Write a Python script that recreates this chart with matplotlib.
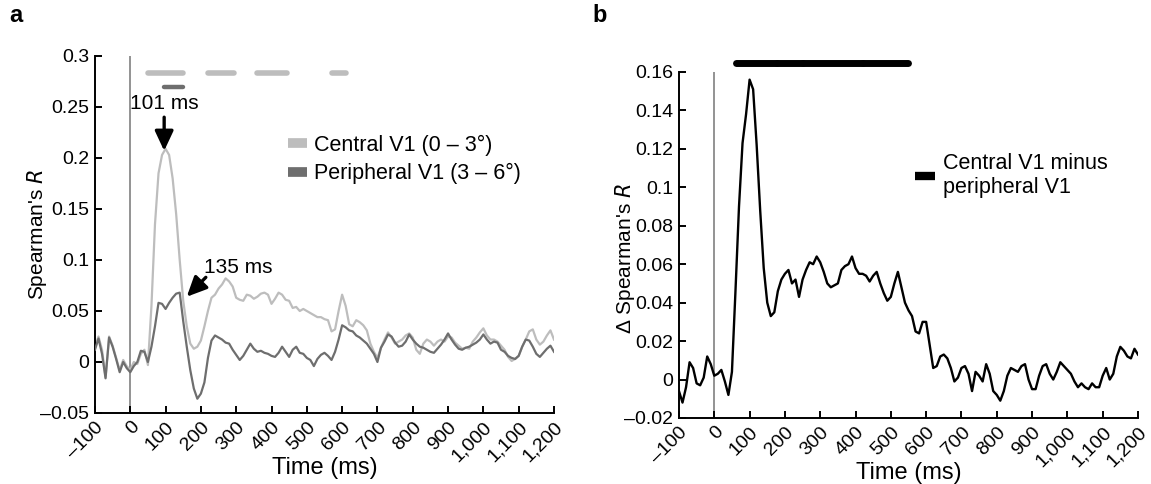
import matplotlib
matplotlib.use("Agg")
import matplotlib.pyplot as plt
from matplotlib.lines import Line2D
import numpy as np

plt.rcParams['font.family'] = ['Liberation Sans', 'DejaVu Sans']

# time axis (ms), one value every 10 ms
t_ms = np.arange(-100, 1201, 10)

central_r = [
    0.015, 0.025, 0.012, -0.015, 0.025, 0.016, 0.004, -0.008, 0.002, -0.004,
    -0.008, 0.000, -0.002, 0.008, 0.012, -0.003, 0.055, 0.135, 0.185, 0.203,
    0.209, 0.203, 0.180, 0.145, 0.100, 0.060, 0.035, 0.018, 0.013, 0.015,
    0.021, 0.035, 0.050, 0.063, 0.066, 0.072, 0.076, 0.082, 0.079, 0.074,
    0.063, 0.061, 0.060, 0.066, 0.065, 0.062, 0.064, 0.067, 0.068, 0.066,
    0.057, 0.062, 0.068, 0.066, 0.061, 0.060, 0.053, 0.054, 0.050, 0.052,
    0.050, 0.048, 0.046, 0.044, 0.044, 0.042, 0.041, 0.030, 0.032, 0.050,
    0.066, 0.055, 0.037, 0.035, 0.041, 0.039, 0.036, 0.031, 0.018, 0.010,
    0.004, 0.014, 0.022, 0.029, 0.024, 0.018, 0.020, 0.022, 0.026, 0.028,
    0.024, 0.012, 0.008, 0.018, 0.022, 0.020, 0.016, 0.020, 0.022, 0.020,
    0.025, 0.024, 0.019, 0.016, 0.013, 0.014, 0.013, 0.020, 0.024, 0.029,
    0.033, 0.026, 0.022, 0.022, 0.020, 0.016, 0.012, 0.005, 0.001, 0.003,
    0.006, 0.015, 0.022, 0.030, 0.032, 0.022, 0.017, 0.020, 0.026, 0.031,
    0.022,
]

peripheral_r = [
    0.012, 0.023, 0.008, -0.016, 0.024, 0.015, 0.003, -0.010, 0.000, -0.006,
    -0.010, -0.004, 0.000, 0.011, 0.010, 0.000, 0.015, 0.035, 0.058, 0.057,
    0.052, 0.058, 0.063, 0.067, 0.068, 0.040, 0.015, -0.008, -0.026, -0.036,
    -0.031, -0.020, 0.004, 0.021, 0.026, 0.024, 0.022, 0.019, 0.018, 0.012,
    0.007, 0.002, 0.006, 0.012, 0.018, 0.013, 0.010, 0.011, 0.009, 0.008,
    0.006, 0.005, 0.009, 0.015, 0.010, 0.005, 0.012, 0.015, 0.009, 0.008,
    0.004, 0.002, -0.004, 0.003, 0.007, 0.009, 0.006, 0.002, 0.010, 0.022,
    0.036, 0.034, 0.031, 0.030, 0.026, 0.024, 0.021, 0.018, 0.013, 0.008,
    0.000, 0.014, 0.020, 0.027, 0.025, 0.019, 0.015, 0.016, 0.020, 0.027,
    0.022, 0.018, 0.015, 0.014, 0.012, 0.010, 0.009, 0.013, 0.017, 0.022,
    0.028, 0.022, 0.017, 0.013, 0.012, 0.014, 0.015, 0.017, 0.019, 0.022,
    0.027, 0.022, 0.018, 0.020, 0.019, 0.012, 0.010, 0.006, 0.004, 0.003,
    0.006, 0.015, 0.022, 0.021, 0.015, 0.008, 0.005, 0.009, 0.013, 0.016,
    0.010,
]

diff_r = [
    -0.006, -0.012, -0.004, 0.009, 0.006, -0.002, -0.003, 0.001, 0.012, 0.008,
    0.002, 0.003, 0.005, -0.001, -0.008, 0.004, 0.046, 0.090, 0.123, 0.138,
    0.156, 0.151, 0.122, 0.088, 0.058, 0.040, 0.033, 0.035, 0.046, 0.052,
    0.055, 0.057, 0.050, 0.052, 0.043, 0.052, 0.057, 0.061, 0.060, 0.064,
    0.061, 0.056, 0.050, 0.048, 0.049, 0.050, 0.057, 0.059, 0.060, 0.064,
    0.058, 0.055, 0.055, 0.054, 0.051, 0.054, 0.056, 0.050, 0.045, 0.041,
    0.043, 0.050, 0.056, 0.048, 0.040, 0.036, 0.033, 0.025, 0.024, 0.030,
    0.030, 0.018, 0.006, 0.007, 0.012, 0.013, 0.011, 0.006, -0.001, 0.001,
    0.006, 0.007, 0.003, -0.006, 0.004, 0.002, -0.001, 0.008, 0.003, -0.006,
    -0.008, -0.011, -0.006, 0.002, 0.006, 0.005, 0.004, 0.007, 0.008, 0.000,
    -0.005, -0.005, 0.002, 0.007, 0.008, 0.003, 0.000, 0.004, 0.009, 0.007,
    0.005, 0.003, -0.001, -0.004, -0.002, -0.004, -0.005, -0.002, -0.004, -0.004,
    0.002, 0.006, 0.000, 0.003, 0.012, 0.017, 0.015, 0.012, 0.011, 0.016,
    0.013,
]

# significant time windows (ms)
central_sig = [(51, 150), (221, 295), (360, 445), (572, 612)]
peripheral_sig = [(96, 150)]
diff_sig = [(62, 178), (178, 250), (250, 422), (422, 550)]

xticks = list(range(-100, 1201, 100))
xticklabels = ["\u2013100", "0", "100", "200", "300", "400", "500", "600", "700",
               "800", "900", "1,000", "1,100", "1,200"]
a_yticks = [-0.05, 0, 0.05, 0.1, 0.15, 0.2, 0.25, 0.3]
a_yticklabels = ["\u20130.05", "0", "0.05", "0.1", "0.15", "0.2", "0.25", "0.3"]
b_yticks = [-0.02, 0, 0.02, 0.04, 0.06, 0.08, 0.1, 0.12, 0.14, 0.16]
b_yticklabels = ["\u20130.02", "0", "0.02", "0.04", "0.06", "0.08", "0.1",
                 "0.12", "0.14", "0.16"]

LIGHT = "#bdbdbd"
DARK = "#6e6e6e"

fig = plt.figure(figsize=(11.51, 4.84), dpi=100)
ax1 = fig.add_axes([0.0825, 0.1467, 0.3988, 0.7376])
ax2 = fig.add_axes([0.5899, 0.1364, 0.3988, 0.7149])


def style_axis(ax, yticks, yticklabels):
    for s in ["top", "right"]:
        ax.spines[s].set_visible(False)
    for s in ["left", "bottom"]:
        ax.spines[s].set_linewidth(1.4)
    ax.set_xlim(-100, 1200)
    ax.set_xticks(xticks)
    ax.set_xticklabels(xticklabels, rotation=45, ha="right",
                       rotation_mode="anchor", fontsize=14)
    ax.set_yticks(yticks)
    ax.set_yticklabels(yticklabels, fontsize=14)
    ax.tick_params(direction="in", length=5, width=1.4, pad=4)
    ax.set_xlabel("Time (ms)", fontsize=17, labelpad=-6)


arrow_kw = dict(arrowstyle="-|>,head_width=0.28,head_length=0.6",
                color="black", lw=2.4, mutation_scale=20, shrinkA=0, shrinkB=0)

# ---- panel a
ax1.set_ylim(-0.05, 0.3)
ax1.axvline(0, color="#8a8a8a", lw=1.3, zorder=1)
ax1.plot(t_ms, central_r, color=LIGHT, lw=1.6, zorder=2)
ax1.plot(t_ms, peripheral_r, color=DARK, lw=1.6, zorder=3)
for a, b in central_sig:
    ax1.plot([a, b], [0.2835, 0.2835], color=LIGHT, lw=4, solid_capstyle="round",
             clip_on=False)
for a, b in peripheral_sig:
    ax1.plot([a, b], [0.2695, 0.2695], color=DARK, lw=3.2, solid_capstyle="round",
             clip_on=False)
style_axis(ax1, a_yticks, a_yticklabels)
ax1.set_ylabel("Spearman's $\\it{R}$", fontsize=15)
ax1.yaxis.set_label_coords(-0.10, 0.5)

ax1.annotate("", xy=(96, 0.207), xytext=(96, 0.240), arrowprops=arrow_kw)
ax1.text(-2, 0.253, "101 ms", fontsize=15, va="center", ha="left")
ax1.annotate("", xy=(160, 0.064), xytext=(214, 0.083), arrowprops=arrow_kw)
ax1.text(210, 0.093, "135 ms", fontsize=15, va="center", ha="left")

handles = [Line2D([0], [0], color=LIGHT, lw=7, solid_capstyle="butt"),
           Line2D([0], [0], color=DARK, lw=7, solid_capstyle="butt")]
ax1.legend(handles, ["Central V1 (0 \u2013 3\u00b0)", "Peripheral V1 (3 \u2013 6\u00b0)"],
           loc="upper left", bbox_to_anchor=(0.42, 0.78), frameon=False,
           fontsize=15.5, handlelength=0.9, handletextpad=0.3, labelspacing=0.35,
           borderpad=0, borderaxespad=0)

# ---- panel b
ax2.set_ylim(-0.02, 0.16)
ax2.axvline(0, color="#8a8a8a", lw=1.3, zorder=1)
ax2.plot(t_ms, diff_r, color="black", lw=1.7, zorder=2)
for a, b in diff_sig:
    ax2.plot([a, b], [0.1648, 0.1648], color="black", lw=5, solid_capstyle="round",
             clip_on=False)
style_axis(ax2, b_yticks, b_yticklabels)
ax2.set_ylabel("\u0394 Spearman's $\\it{R}$", fontsize=15)
ax2.yaxis.set_label_coords(-0.092, 0.46)

handles_b = [Line2D([0], [0], color="black", lw=6, solid_capstyle="butt")]
ax2.legend(handles_b, ["Central V1 minus\nperipheral V1"],
           loc="upper left", bbox_to_anchor=(0.515, 0.765), frameon=False,
           fontsize=15.5, handlelength=0.9, handletextpad=0.4, borderpad=0,
           borderaxespad=0)

fig.text(0.008, 0.955, "a", fontsize=17, fontweight="bold")
fig.text(0.515, 0.955, "b", fontsize=17, fontweight="bold")

fig.savefig("out.png", dpi=100)
